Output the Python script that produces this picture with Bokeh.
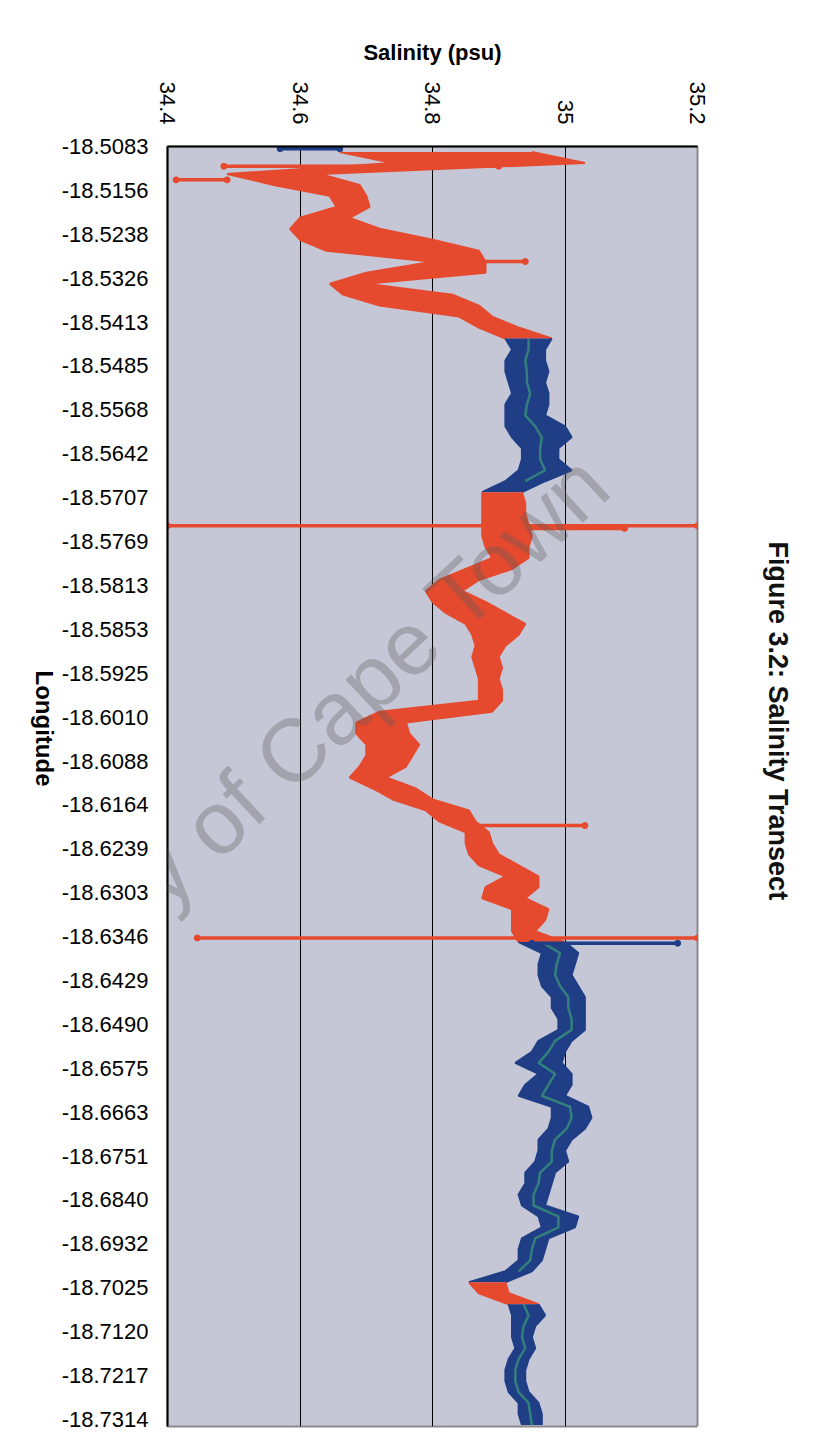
import math
from bokeh.plotting import figure
from bokeh.models import Range1d, FixedTicker, Label, LinearAxis, Title
from bokeh.embed import file_html
from bokeh.resources import INLINE

# ---------------- data ----------------
lon_labels = ["-18.5083", "-18.5156", "-18.5238", "-18.5326", "-18.5413", "-18.5485",
              "-18.5568", "-18.5642", "-18.5707", "-18.5769", "-18.5813", "-18.5853",
              "-18.5925", "-18.6010", "-18.6088", "-18.6164", "-18.6239", "-18.6303",
              "-18.6346", "-18.6429", "-18.6490", "-18.6575", "-18.6663", "-18.6751",
              "-18.6840", "-18.6932", "-18.7025", "-18.7120", "-18.7217", "-18.7314"]
samples_per_label = 100     # sample index step between two longitude labels
samples_per_bin = 25        # the trace is summarised in bins of 25 samples
n_samples = 2916

sal_ticks = [34.4, 34.6, 34.8, 35.0, 35.2]
sal_tick_text = ["34.4", "34.6", "34.8", "35", "35.2"]

# salinity range (min / max) inside each bin, and which series the bin belongs to
sal_min = [34.66, 34.74, 34.49, 34.56, 34.645, 34.655, 34.60, 34.585, 34.60, 34.64,
           34.80, 34.70, 34.645, 34.665, 34.72, 34.84, 34.87, 34.91, 34.92, 34.91,
           34.91, 34.915, 34.92, 34.91, 34.91, 34.91, 34.92, 34.935, 34.935, 34.93,
           34.91, 34.875, 34.875, 34.875, 34.875, 34.875, 34.88, 34.89, 34.85, 34.81,
           34.79, 34.80, 34.82, 34.85, 34.86, 34.865, 34.86, 34.865, 34.87, 34.87,
           34.87, 34.72, 34.685, 34.685, 34.70, 34.70, 34.69, 34.675, 34.71, 34.74,
           34.79, 34.81, 34.85, 34.85, 34.855, 34.87, 34.91, 34.88, 34.875, 34.92,
           34.92, 34.92, 34.93, 34.965, 34.96, 34.96, 34.965, 34.98, 34.98, 34.99,
           34.99, 34.96, 34.95, 34.925, 34.96, 34.94, 34.93, 34.98, 34.98, 34.975,
           34.96, 34.96, 34.955, 34.94, 34.94, 34.93, 34.935, 34.96, 34.965, 34.935,
           34.93, 34.93, 34.91, 34.855, 34.87, 34.915, 34.92, 34.92, 34.92, 34.925,
           34.915, 34.91, 34.91, 34.915, 34.93, 34.93, 34.935]
sal_max = [34.95, 35.03, 34.63, 34.69, 34.70, 34.705, 34.675, 34.72, 34.80, 34.87,
           34.88, 34.88, 34.70, 34.83, 34.87, 34.89, 34.93, 34.98, 34.97, 34.97,
           34.975, 34.97, 34.975, 34.975, 34.97, 35.00, 35.01, 34.99, 34.99, 35.01,
           34.97, 34.935, 34.94, 34.94, 34.945, 34.95, 34.945, 34.945, 34.92, 34.87,
           34.845, 34.88, 34.91, 34.94, 34.93, 34.91, 34.90, 34.905, 34.90, 34.905,
           34.905, 34.89, 34.76, 34.765, 34.78, 34.77, 34.76, 34.73, 34.775, 34.80,
           34.855, 34.865, 34.885, 34.89, 34.90, 34.93, 34.96, 34.96, 34.94, 34.975,
           34.97, 34.955, 35.00, 35.02, 35.015, 35.01, 35.02, 35.03, 35.03, 35.03,
           35.03, 35.01, 35.00, 34.995, 35.01, 35.01, 35.00, 35.035, 35.04, 35.03,
           35.01, 35.00, 35.005, 34.985, 34.98, 34.975, 34.97, 35.02, 35.015, 34.975,
           34.97, 34.965, 34.95, 34.91, 34.915, 34.96, 34.97, 34.955, 34.95, 34.955,
           34.945, 34.94, 34.94, 34.945, 34.96, 34.965, 34.965]
bin_series = (["A"] * 17 + ["B"] * 14 + ["A"] * 41 + ["B"] * 31 + ["A"] * 2 + ["B"] * 12)

# short excursions (spikes): sample index, min, max, series
spike_pos = [5, 45, 76, 262, 864, 870, 1547, 1803, 1815]
spike_min = [34.57, 34.485, 34.413, 34.85, 34.40, 34.94, 34.85, 34.445, 34.95]
spike_max = [34.66, 34.90, 34.49, 34.94, 35.20, 35.09, 35.03, 35.20, 35.17]
spike_series = ["B", "A", "A", "A", "A", "A", "A", "A", "B"]

# ---------------- styling ----------------
RED = "#e64a2e"
BLUE = "#1f3e85"
GREEN = "#3a9678"
COL = {"A": RED, "B": BLUE}
FONT = "Liberation Sans"

p = figure(width=809, height=1432,
           x_range=Range1d(sal_ticks[0], sal_ticks[-1]),
           y_range=Range1d(n_samples, 0),
           x_axis_location="above",
           output_backend="svg", toolbar_location=None,
           min_border_left=167, min_border_right=112,
           min_border_top=146, min_border_bottom=6,
           background_fill_color="#c5c6d6", border_fill_color="white",
           outline_line_color="#8a8a8a", outline_line_width=2)

# grid
p.xgrid.ticker = FixedTicker(ticks=sal_ticks[1:-1])
p.xgrid.grid_line_color = "black"
p.xgrid.grid_line_width = 1
p.ygrid.visible = False

# bin centres
rows = [samples_per_bin * (i + 0.5) for i in range(len(sal_min))]

# contiguous runs of one series, drawn as filled bands
runs = []
start = 0
for i in range(1, len(bin_series) + 1):
    if i == len(bin_series) or bin_series[i] != bin_series[start]:
        runs.append((start, i - 1, bin_series[start]))
        start = i
for a, b, s in runs:
    end = min(b + 1, len(rows) - 1)
    ys = rows[a:end + 1]
    lo = sal_min[a:end + 1]
    hi = sal_max[a:end + 1]
    p.harea(y=ys, x1=lo, x2=hi, fill_color=COL[s], fill_alpha=1.0)
    p.line(x=lo, y=ys, line_color=COL[s], line_width=2)
    p.line(x=hi, y=ys, line_color=COL[s], line_width=2)
    if s == "B":
        mid = [(l + h) / 2 for l, h in zip(sal_min[a:b + 1], sal_max[a:b + 1])]
        p.line(x=mid, y=rows[a:b + 1], line_color=GREEN, line_width=2.5, line_alpha=0.75)

# spikes
for pos, lo, hi, s in zip(spike_pos, spike_min, spike_max, spike_series):
    p.segment(x0=[lo], y0=[pos], x1=[hi], y1=[pos], line_color=COL[s], line_width=3.5)
    p.scatter(x=[lo, hi], y=[pos, pos], size=6, color=COL[s])

# x axis (top)
xa = p.xaxis[0]
xa.ticker = FixedTicker(ticks=sal_ticks)
xa.major_label_overrides = {t: s for t, s in zip(sal_ticks, sal_tick_text)}
xa.major_label_orientation = -math.pi / 2
xa.major_label_text_font = FONT
xa.major_label_text_font_size = "22px"
xa.major_label_text_color = "black"
xa.major_label_standoff = 22
xa.major_tick_out = 0
xa.major_tick_in = 0
xa.minor_tick_out = 0
xa.minor_tick_in = 0
xa.axis_line_color = "black"
xa.axis_line_width = 2
xa.axis_label = "Salinity (psu)"
xa.axis_label_text_font = FONT
xa.axis_label_text_font_style = "bold"
xa.axis_label_text_font_size = "22px"
xa.axis_label_text_color = "black"
xa.axis_label_standoff = 14

# y axis (left)
ya = p.yaxis[0]
ya.ticker = FixedTicker(ticks=[i * samples_per_label for i in range(len(lon_labels))])
ya.major_label_overrides = {i * samples_per_label: s for i, s in enumerate(lon_labels)}
ya.major_label_text_font = FONT
ya.major_label_text_font_size = "22px"
ya.major_label_text_color = "black"
ya.major_label_standoff = 19
ya.major_tick_out = 0
ya.major_tick_in = 0
ya.minor_tick_out = 0
ya.minor_tick_in = 0
ya.axis_line_color = "black"
ya.axis_line_width = 2
ya.axis_label = "Longitude"
ya.axis_label_text_font = FONT
ya.axis_label_text_font_style = "bold"
ya.axis_label_text_font_size = "24px"
ya.axis_label_text_color = "black"
ya.axis_label_standoff = 14
try:
    ya.axis_label_orientation = -math.pi / 2
except Exception:
    pass

# right-hand axis used only as spacing (one white, label-less tick at the bottom),
# then the figure caption as a side title
last_tick = n_samples - 1
spacer = LinearAxis(ticker=FixedTicker(ticks=[last_tick]), axis_line_color=None,
                    major_tick_out=64, major_tick_in=0, major_tick_line_color="white",
                    minor_tick_out=0, minor_tick_in=0, minor_tick_line_color=None,
                    major_label_overrides={last_tick: ""}, major_label_standoff=0,
                    major_label_text_font_size="1px", major_label_text_color="white")
p.add_layout(spacer, "right")
p.add_layout(Title(text="Figure 3.2: Salinity Transect", align="left", offset=395,
                   vertical_align="middle", standoff=0,
                   text_font=FONT, text_font_style="bold", text_font_size="27px",
                   text_color="#111111"), "right")

# watermark
p.add_layout(Label(x=34.515, y=1481, text="University of Cape Town", angle=math.radians(43),
                   text_align="center", text_baseline="middle",
                   text_font=FONT, text_font_size="89px",
                   text_color="#5a5a5a", text_alpha=0.33, level="overlay"))

open("out.html", "w").write(file_html(p, INLINE))
